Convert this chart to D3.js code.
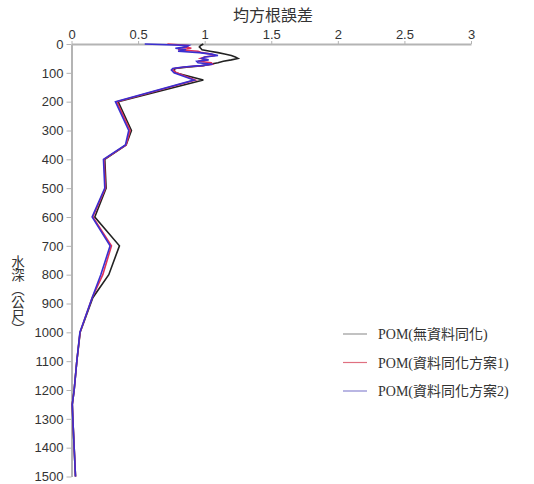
<!DOCTYPE html>
<html>
<head>
<meta charset="utf-8">
<script src="https://cdn.jsdelivr.net/npm/d3@7"></script>
<style>
  body { margin: 0; background: #fff; }
  svg text { fill: #333; }
</style>
</head>
<body>
<div id="chart"></div>
<script>
// depth levels (m)
const depths = [0, 5, 10, 15, 20, 25, 30, 35, 40, 45, 50, 55, 60, 65, 70, 75, 80, 85, 90, 100, 125,
  200, 300, 350, 400, 500, 600, 700, 800, 880, 1000, 1100, 1200, 1250, 1300, 1400, 1500];

// RMSE, no data assimilation
const rmseNoDA = [0.99, 0.97, 0.96, 0.97, 0.98, 1.04, 1.1, 1.15, 1.2, 1.23, 1.25, 1.2, 1.14, 1.1, 1.04, 0.99, 0.88, 0.78, 0.77, 0.78, 0.99,
  0.35, 0.45, 0.41, 0.25, 0.26, 0.175, 0.36, 0.28, 0.16, 0.065, 0.04, 0.02, 0.006, 0.01, 0.02, 0.03];
// RMSE, assimilation scheme 1
const rmseDA1 = [0.72, 0.88, 0.85, 0.9, 0.8, 0.95, 0.98, 1.05, 1.08, 1.0, 0.97, 1.02, 0.95, 1.05, 1.06, 0.98, 0.85, 0.77, 0.76, 0.79, 0.93,
  0.34, 0.44, 0.41, 0.245, 0.255, 0.16, 0.30, 0.235, 0.155, 0.064, 0.04, 0.02, 0.006, 0.01, 0.02, 0.03];
// RMSE, assimilation scheme 2
const rmseDA2 = [0.55, 0.88, 0.86, 0.78, 0.86, 0.8, 0.96, 1.05, 1.1, 1.0, 0.98, 1.03, 0.94, 0.95, 1.06, 0.97, 0.84, 0.76, 0.75, 0.77, 0.92,
  0.33, 0.43, 0.405, 0.24, 0.25, 0.155, 0.29, 0.22, 0.155, 0.063, 0.04, 0.02, 0.006, 0.01, 0.02, 0.03];

const xTicks = [0, 0.5, 1, 1.5, 2, 2.5, 3];
const yTicks = d3.range(0, 1501, 100);
const seriesNames = ["POM(無資料同化)", "POM(資料同化方案1)", "POM(資料同化方案2)"];
const seriesColors = ["#222222", "#e0305a", "#3a2fd0"];
const legendColors = ["#9a9a9a", "#e07080", "#8a86d0"];

const width = 534, height = 484;
const svg = d3.select("#chart").append("svg")
  .attr("width", width)
  .attr("height", height);

const x = d3.scaleLinear().domain([0, 3]).range([71.5, 471]);
const y = d3.scaleLinear().domain([0, 1500]).range([44, 476.5]);

// top axis
const xAxis = svg.append("g")
  .attr("transform", "translate(0," + y(0) + ")")
  .call(d3.axisTop(x).tickValues(xTicks).tickFormat(d3.format("")).tickSize(3).tickSizeOuter(0));
xAxis.select(".domain").attr("stroke", "#b4b4b4").attr("stroke-width", 2);
xAxis.selectAll(".tick line").attr("stroke", "#b4b4b4");
xAxis.selectAll("text")
  .attr("dy", "0.1em")
  .style("font-family", "Liberation Sans, Arial, sans-serif")
  .style("font-size", "13px")
  .attr("fill", "#333");

// left axis
const yAxis = svg.append("g")
  .attr("transform", "translate(" + x(0) + ",0)")
  .call(d3.axisLeft(y).tickValues(yTicks).tickFormat(d3.format("d")).tickSize(5).tickSizeOuter(0));
yAxis.select(".domain").attr("stroke", "#b4b4b4").attr("stroke-width", 2);
yAxis.selectAll(".tick line").attr("stroke", "#b4b4b4");
yAxis.selectAll("text")
  .attr("x", -8)
  .style("font-family", "Liberation Sans, Arial, sans-serif")
  .style("font-size", "13px")
  .attr("fill", "#333");

// lines
const line = d3.line()
  .x(d => x(d.v))
  .y(d => y(d.d));

[rmseNoDA, rmseDA1, rmseDA2].forEach((vals, i) => {
  const pts = depths.map((d, k) => ({ d: d, v: vals[k] }));
  svg.append("path")
    .datum(pts)
    .attr("fill", "none")
    .attr("stroke", seriesColors[i])
    .attr("stroke-width", 1.6)
    .attr("stroke-linejoin", "miter")
    .attr("d", line);
});

// title
svg.append("text")
  .attr("x", 273)
  .attr("y", 21)
  .attr("text-anchor", "middle")
  .style("font-family", "Noto Sans CJK TC, sans-serif")
  .style("font-size", "16px")
  .attr("fill", "#333")
  .text("均方根誤差");

// y label, written vertically
svg.append("text")
  .attr("x", 18)
  .attr("y", 255)
  .style("writing-mode", "vertical-rl")
  .style("font-family", "Noto Sans CJK TC, sans-serif")
  .style("font-size", "13.5px")
  .attr("fill", "#333")
  .text("水深（公尺）");

// legend
const legend = svg.append("g");
seriesNames.forEach((name, i) => {
  const ly = 334 + i * 28.5;
  legend.append("line")
    .attr("x1", 343).attr("x2", 367)
    .attr("y1", ly).attr("y2", ly)
    .attr("stroke", legendColors[i])
    .attr("stroke-width", 1.2);
  legend.append("text")
    .attr("x", 378)
    .attr("y", ly + 5)
    .style("font-family", "Liberation Serif, Noto Sans CJK TC, serif")
    .style("font-size", "14px")
    .attr("fill", "#333")
    .text(name);
});
</script>
</body>
</html>
